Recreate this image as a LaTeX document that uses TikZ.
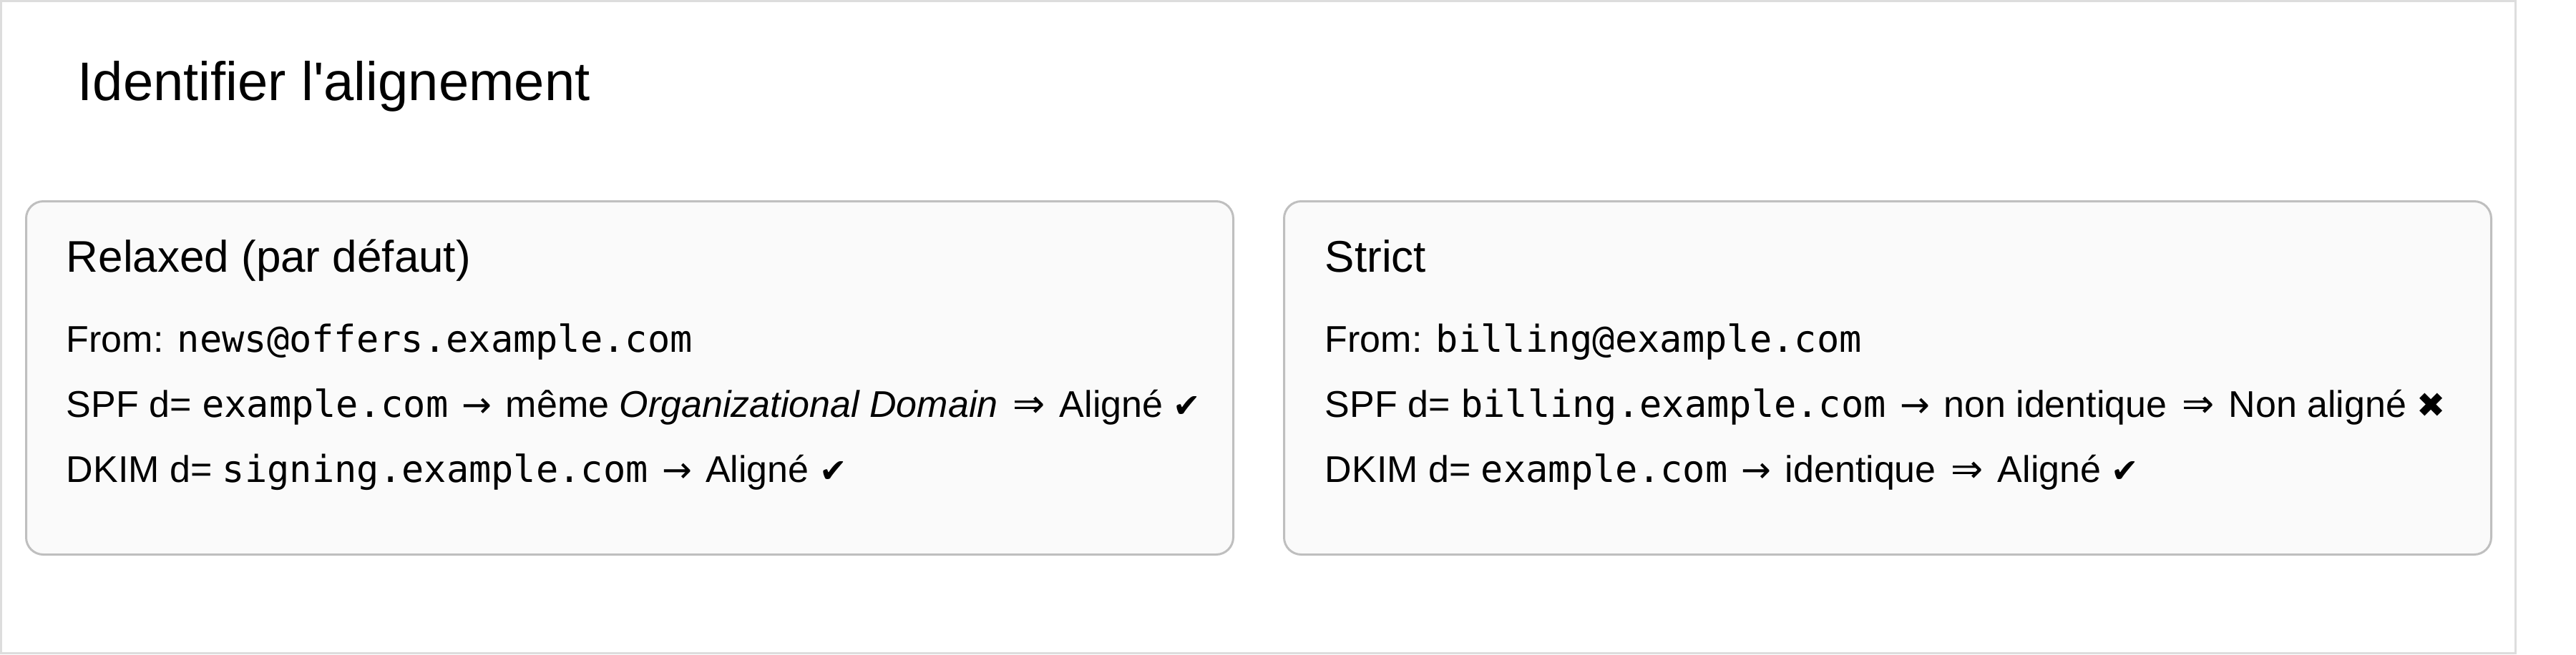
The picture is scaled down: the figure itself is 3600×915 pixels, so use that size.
\documentclass[tikz,border=0pt]{standalone}
\usepackage{fontspec}
\setmainfont{Liberation Sans}
\newfontfamily\monof{DejaVu Sans Mono}
\newfontfamily\symf{DejaVu Sans}
\definecolor{framegray}{HTML}{DDDDDD}
\definecolor{boxborder}{HTML}{BFBFBF}
\definecolor{boxfill}{HTML}{FAFAFA}
\newcommand{\code}[1]{{\monof #1}}
\newcommand{\ra}{\kern1.2pt{\symf\fontsize{12.5pt}{14pt}\selectfont →}\kern1.2pt}
\newcommand{\Ra}{\kern1.5pt{\symf\fontsize{13.5pt}{14pt}\selectfont ⇒}\kern1.5pt}
\newcommand{\okmark}{{\symf\fontsize{11.5pt}{13pt}\selectfont ✔}}
\newcommand{\komark}{{\symf\fontsize{12pt}{13pt}\selectfont ✖}}
\begin{document}
\begin{tikzpicture}[x=0.25pt,y=-0.25pt,
  panel/.style={draw=boxborder, line width=0.75pt, fill=boxfill, rounded corners=6pt,
    anchor=north west, minimum width=421.75pt, minimum height=123.5pt, inner sep=0pt},
  titletext/.style={anchor=base west, inner sep=0pt, font=\fontsize{19pt}{22pt}\selectfont},
  headtext/.style={anchor=base west, inner sep=0pt, font=\fontsize{15.5pt}{18pt}\selectfont},
  bodytext/.style={anchor=base west, inner sep=0pt, font=\fontsize{13pt}{15pt}\selectfont}]
\useasboundingbox (0,0) rectangle (3600,915);
\fill[white] (0,0) rectangle (3600,915);
\draw[framegray, line width=0.75pt] (1.5,1.5) rectangle (3515,913);
\node[titletext] (title) at (108,140) {Identifier l\textquotesingle alignement};
% left panel
\node[panel] (L) at (35,280) {};
\node[headtext] (Lh) at (92,380) {Relaxed (par défaut)};
\node[bodytext] (L1) at (92,492) {From: \code{news@offers.example.com}};
\node[bodytext] (L2) at (92,583) {SPF d= \code{example.com} \ra{} même \textit{Organizational Domain} \Ra{} Aligné \okmark};
\node[bodytext] (L3) at (92,674) {DKIM d= \code{signing.example.com} \ra{} Aligné \okmark};
% right panel
\node[panel] (R) at (1793,280) {};
\node[headtext] (Rh) at (1851,380) {Strict};
\node[bodytext] (R1) at (1851,492) {From: \code{billing@example.com}};
\node[bodytext] (R2) at (1851,583) {SPF d= \code{billing.example.com} \ra{} non identique \Ra{} Non aligné \komark};
\node[bodytext] (R3) at (1851,674) {DKIM d= \code{example.com} \ra{} identique \Ra{} Aligné \okmark};
\end{tikzpicture}
\end{document}
